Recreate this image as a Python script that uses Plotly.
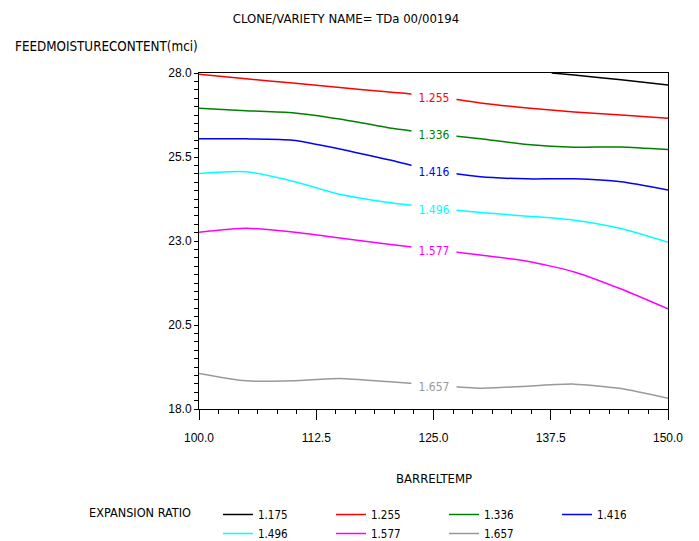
import plotly.graph_objects as go

# Barrel temperature grid (x) shared by the contour lines
barrel_temp = [100, 105, 110, 115, 120, 125, 130, 135, 140, 145, 150]

# Contour lines of expansion ratio: feed moisture content (mci) at each barrel temp
ratio_1255 = [27.96, 27.83, 27.70, 27.57, 27.44, 27.31, 27.11, 26.96, 26.84, 26.75, 26.65]
ratio_1336 = [26.95, 26.88, 26.82, 26.63, 26.38, 26.20, 26.04, 25.87, 25.79, 25.80, 25.72]
ratio_1416 = [26.04, 26.04, 26.00, 25.74, 25.43, 25.11, 24.91, 24.85, 24.85, 24.76, 24.52]
ratio_1496 = [25.01, 25.06, 24.78, 24.39, 24.15, 23.99, 23.85, 23.74, 23.62, 23.37, 22.96]
ratio_1577 = [23.26, 23.38, 23.27, 23.09, 22.91, 22.75, 22.58, 22.40, 22.08, 21.57, 20.98]
ratio_1657 = [19.06, 18.84, 18.84, 18.91, 18.82, 18.71, 18.62, 18.68, 18.74, 18.61, 18.32]

# The 1.175 contour only enters the plotted window near the top right
temp_1175 = [137.6, 140, 145, 150]
ratio_1175 = [28.00, 27.94, 27.80, 27.64]

levels = ["1.175", "1.255", "1.336", "1.416", "1.496", "1.577", "1.657"]
colors = ["#000000", "#ff0000", "#008000", "#0000ff", "#00ffff", "#ff00ff", "#999999"]
xs = [temp_1175] + [barrel_temp] * 6
ys = [ratio_1175, ratio_1255, ratio_1336, ratio_1416, ratio_1496, ratio_1577, ratio_1657]

x_ticks = [100.0, 112.5, 125.0, 137.5, 150.0]
y_ticks = [18.0, 20.5, 23.0, 25.5, 28.0]

COND = "DejaVu Sans Condensed, Liberation Sans, sans-serif"
REG = "Liberation Sans, Arial, sans-serif"

fig = go.Figure()
for lv, c, x, y in zip(levels, colors, xs, ys):
    fig.add_trace(go.Scatter(x=x, y=y, mode="lines", name=lv,
                             line=dict(color=c, width=1.5, shape="spline", smoothing=0.6)))

# inline contour labels (except 1.175, which has none in the window)
label_x = 125
idx = barrel_temp.index(label_x)
for lv, c, y in zip(levels[1:], colors[1:], ys[1:]):
    fig.add_annotation(x=label_x, y=y[idx], xref="x", yref="y", text=lv,
                       showarrow=False, bgcolor="white", width=42, height=14,
                       yshift=-2, font=dict(family=COND, size=12, color=c))

fig.add_annotation(text="FEEDMOISTURECONTENT(mci)", xref="paper", yref="paper",
                   x=-0.3966, y=1.0774, xanchor="left", yanchor="middle",
                   showarrow=False, font=dict(family=COND, size=13.3, color="black"))
fig.add_annotation(text="BARRELTEMP", xref="paper", yref="paper",
                   x=0.5, y=-0.2054, xanchor="center", yanchor="middle",
                   showarrow=False, font=dict(family=COND, size=13, color="black"))
fig.add_annotation(text="EXPANSION RATIO", xref="paper", yref="paper",
                   x=-0.2388, y=-0.3095, xanchor="left", yanchor="middle",
                   showarrow=False, font=dict(family=COND, size=12.6, color="black"))

fig.update_layout(
    width=699, height=541,
    margin=dict(l=199, r=31, t=73, b=132),
    paper_bgcolor="white", plot_bgcolor="white",
    title=dict(text="CLONE/VARIETY NAME= TDa 00/00194", x=0.495, xanchor="center",
               y=0.965, yanchor="middle", font=dict(family=COND, size=13, color="black")),
    showlegend=True,
    legend=dict(orientation="h", xref="container", yref="container",
                x=218 / 699, xanchor="left", y=1 - 500 / 541, yanchor="top",
                entrywidth=68, entrywidthmode="pixels", tracegroupgap=0,
                font=dict(family=COND, size=11.5, color="black"), bgcolor="rgba(0,0,0,0)"),
    xaxis=dict(range=[100, 150], tickvals=x_ticks, tickformat=".1f",
               showgrid=False, zeroline=False, showline=True, linecolor="black",
               linewidth=1, mirror=True, ticks="outside", ticklen=10, tickcolor="black",
               ticklabelstandoff=8, tickfont=dict(family=REG, size=12, color="black"),
               minor=dict(tick0=100, dtick=12.5 / 6, ticks="outside", ticklen=4,
                          tickcolor="black", showgrid=False)),
    yaxis=dict(range=[18, 28], tickvals=y_ticks, tickformat=".1f",
               showgrid=False, zeroline=False, showline=True, linecolor="black",
               linewidth=1, mirror=True, ticks="outside", ticklen=4, tickcolor="black",
               tickfont=dict(family=REG, size=12, color="black"),
               minor=dict(tick0=18, dtick=0.25, ticks="outside", ticklen=4,
                          tickcolor="black", showgrid=False)),
)

fig.write_html("out.html", config={"displayModeBar": False},
               post_script="document.body.style.margin='0';")
